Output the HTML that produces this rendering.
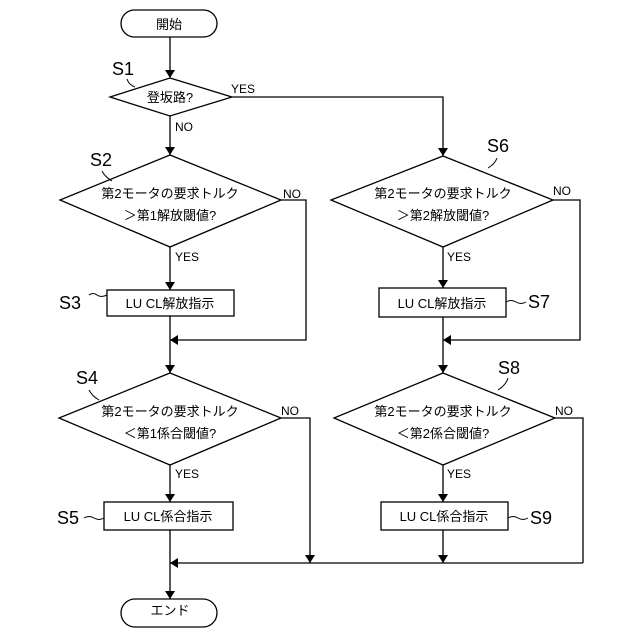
<!DOCTYPE html>
<html><head><meta charset="utf-8"><style>
html,body{margin:0;padding:0;background:#fff}
svg{display:block}
text{font-family:"Liberation Sans","Noto Sans CJK JP",sans-serif;fill:#000}
</style></head><body>
<svg width="640" height="640" viewBox="0 0 640 640" xmlns="http://www.w3.org/2000/svg">
<defs><marker id="a" markerWidth="8" markerHeight="10" refX="8" refY="5" orient="auto" markerUnits="userSpaceOnUse"><path d="M0,0 L8,5 L0,10 Z" fill="#000"/></marker></defs>
<g fill="none" stroke="#000" stroke-width="1.3">
<rect x="121" y="10" width="96" height="27" rx="13.5"/>
<rect x="121" y="599" width="96" height="28" rx="14"/>
<polygon points="170,78 232,97 170,116 110,97"/>
<polygon points="170,155 281,200 170,247 60,200"/>
<polygon points="170,373 281,418 170,465 59,418"/>
<polygon points="443,156 553,200 443,247 331,200"/>
<polygon points="443,373 555,418 443,465 334,418"/>
<rect x="107" y="290" width="127" height="26"/>
<rect x="104" y="502" width="129" height="28"/>
<rect x="379" y="288" width="127" height="29"/>
<rect x="381" y="502" width="127" height="28"/>
<line x1="170" y1="37" x2="170" y2="78" marker-end="url(#a)"/>
<line x1="170" y1="116" x2="170" y2="155" marker-end="url(#a)"/>
<line x1="170" y1="247" x2="170" y2="290" marker-end="url(#a)"/>
<line x1="170" y1="316" x2="170" y2="373" marker-end="url(#a)"/>
<line x1="170" y1="465" x2="170" y2="502" marker-end="url(#a)"/>
<line x1="170" y1="530" x2="170" y2="599" marker-end="url(#a)"/>
<polyline points="232,97 443,97 443,156" marker-end="url(#a)"/>
<polyline points="281,200 306,200 306,340 170,340" marker-end="url(#a)"/>
<polyline points="281,418 310,418 310,563" marker-end="url(#a)"/>
<polyline points="583,563 170,563" marker-end="url(#a)"/>
<line x1="443" y1="247" x2="443" y2="288" marker-end="url(#a)"/>
<line x1="443" y1="317" x2="443" y2="373" marker-end="url(#a)"/>
<polyline points="553,200 580,200 580,340 443,340" marker-end="url(#a)"/>
<line x1="443" y1="465" x2="443" y2="502" marker-end="url(#a)"/>
<line x1="443" y1="530" x2="443" y2="563" marker-end="url(#a)"/>
<polyline points="555,418 583,418 583,563"/>
<path d="M127,79 q2,6 8,8" stroke-width="1"/>
<path d="M102,171 q3,6 10,10" stroke-width="1"/>
<path d="M89,295 q4,-3 8,0 t10,0" stroke-width="1"/>
<path d="M89,390 q3,6 10,10" stroke-width="1"/>
<path d="M84,518 q5,-3 10,0 t10,0" stroke-width="1"/>
<path d="M497,158 q-2,6 -9,10" stroke-width="1"/>
<path d="M506,302 q5,-3 10,0 t10,0" stroke-width="1"/>
<path d="M508,378 q-2,7 -10,12" stroke-width="1"/>
<path d="M508,518 q5,-3 10,0 t10,0" stroke-width="1"/>
</g>
<g font-size="13" text-anchor="middle">
<text x="169" y="29">開始</text>
<text x="170" y="615">エンド</text>
<text x="170" y="102">登坂路?</text>
<text x="170" y="198">第2モータの要求トルク</text>
<text x="170" y="220">＞第1解放閾値?</text>
<text x="170" y="416">第2モータの要求トルク</text>
<text x="170" y="438">＜第1係合閾値?</text>
<text x="443" y="198">第2モータの要求トルク</text>
<text x="443" y="220">＞第2解放閾値?</text>
<text x="443" y="416">第2モータの要求トルク</text>
<text x="443" y="438">＜第2係合閾値?</text>
<text x="170" y="308">LU CL解放指示</text>
<text x="168" y="521">LU CL係合指示</text>
<text x="442" y="308">LU CL解放指示</text>
<text x="444" y="521">LU CL係合指示</text>
</g>
<g font-size="12">
<text x="231" y="93">YES</text>
<text x="175" y="131">NO</text>
<text x="283" y="198">NO</text>
<text x="175" y="261">YES</text>
<text x="281" y="415">NO</text>
<text x="175" y="478">YES</text>
<text x="553" y="195">NO</text>
<text x="447" y="261">YES</text>
<text x="555" y="415">NO</text>
<text x="447" y="478">YES</text>
</g>
<g font-size="18">
<text x="112" y="75">S1</text>
<text x="90" y="166">S2</text>
<text x="59" y="309">S3</text>
<text x="76" y="384">S4</text>
<text x="57" y="524">S5</text>
<text x="487" y="152">S6</text>
<text x="528" y="308">S7</text>
<text x="498" y="374">S8</text>
<text x="530" y="524">S9</text>
</g>
</svg>
</body></html>
